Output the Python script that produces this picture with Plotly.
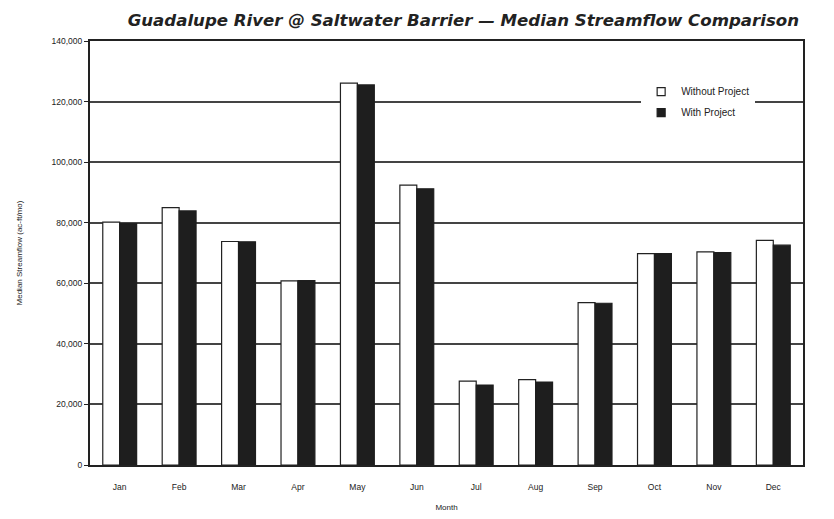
import plotly.graph_objects as go

months = ["Jan", "Feb", "Mar", "Apr", "May", "Jun",
          "Jul", "Aug", "Sep", "Oct", "Nov", "Dec"]
without_project = [80200, 85000, 73800, 60800, 126100, 92400,
                   27700, 28200, 53600, 69800, 70400, 74200]
with_project = [79700, 83900, 73700, 60900, 125500, 91200,
                26400, 27400, 53400, 69800, 70100, 72600]
y_ticks = [0, 20000, 40000, 60000, 80000, 100000, 120000, 140000]

fig = go.Figure()
fig.add_trace(go.Bar(x=months, y=without_project, name="Without Project", showlegend=False,
                     marker=dict(color="white", line=dict(color="#222", width=1.2))))
fig.add_trace(go.Bar(x=months, y=with_project, name="With Project", showlegend=False,
                     marker=dict(color="#1e1e1e", line=dict(color="#1e1e1e", width=1.2))))

# small square legend keys like the original
fig.add_trace(go.Scatter(x=[None], y=[None], mode="markers", name="Without Project",
                         legendgroup="a",
                         marker=dict(symbol="square", size=8, color="white",
                                     line=dict(color="#222", width=1.2))))
fig.add_trace(go.Scatter(x=[None], y=[None], mode="markers", name="With Project",
                         legendgroup="b",
                         marker=dict(symbol="square", size=8, color="#1e1e1e",
                                     line=dict(color="#1e1e1e", width=1.2))))

fig.update_layout(
    width=834, height=519,
    margin=dict(l=82, r=39, t=33, b=62, autoexpand=False),
    paper_bgcolor="white", plot_bgcolor="white",
    font=dict(family="Liberation Sans, Arial, sans-serif", size=8, color="#333"),
    title=dict(text="<b><i>Guadalupe River @ Saltwater Barrier — Median Streamflow Comparison</i></b>",
               x=0.546, xanchor="center", y=0.988, yanchor="top",
               font=dict(family="DejaVu Sans, sans-serif", size=16.6, color="#222")),
    barmode="group", bargap=0.43, bargroupgap=0,
    showlegend=True,
    legend=dict(x=0.773, y=0.915, xanchor="left", yanchor="top",
                bgcolor="white", font=dict(size=10, color="#222"),
                traceorder="grouped", tracegroupgap=2, itemwidth=30),
)
fig.update_xaxes(title=dict(text="Month", font=dict(size=8, color="#222"), standoff=13),
                 showline=True, linecolor="#222", linewidth=2, mirror=True,
                 ticks="", showgrid=False, ticklabelstandoff=13,
                 tickfont=dict(size=8.5, color="#222"))
fig.update_yaxes(title=dict(text="Median Streamflow (ac-ft/mo)", font=dict(size=8, color="#222"),
                            standoff=28),
                 range=[0, 140000], tickvals=y_ticks, tickformat=",",
                 tickfont=dict(size=8.5, color="#222"),
                 showline=True, linecolor="#222", linewidth=2, mirror=True,
                 ticks="outside", ticklen=4, tickcolor="#222",
                 showgrid=True, gridcolor="#444", gridwidth=2, zeroline=False)

fig.write_html("out.html")
